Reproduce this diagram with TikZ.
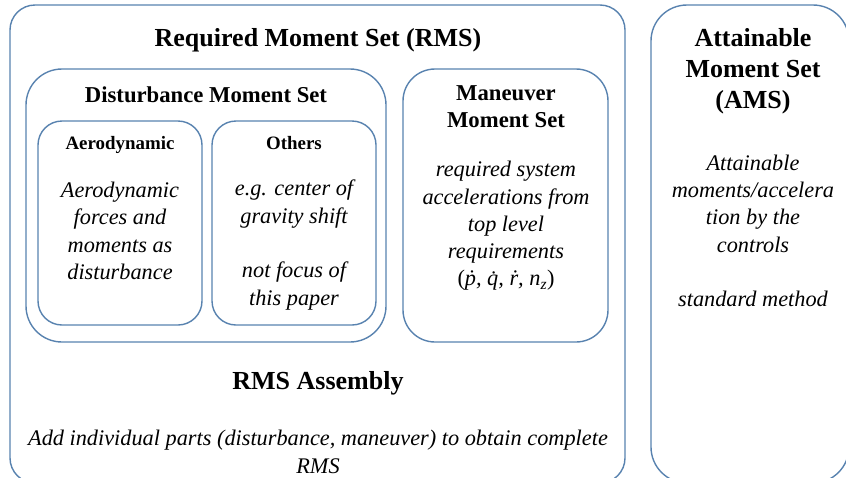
\documentclass[tikz,border=0pt]{standalone}
\usepackage{fontspec}
\setmainfont{Liberation Serif}
\begin{document}
\begin{tikzpicture}[x=1pt,y=-1pt,
  box/.style={draw=boxblue,line width=1.4pt},
  bigtitle/.style={font=\fontsize{26}{31}\selectfont\bfseries,align=center,inner sep=0pt},
  midtitle/.style={font=\fontsize{22.7}{27}\selectfont\bfseries,align=center,inner sep=0pt},
  smalltitle/.style={font=\fontsize{18.9}{22}\selectfont\bfseries,align=center,inner sep=0pt,anchor=base},
  body/.style={font=\fontsize{22.3}{27.3}\selectfont\itshape,align=center,inner sep=0pt}]
\definecolor{boxblue}{RGB}{88,130,175}
\useasboundingbox (0,0) rectangle (846,477);
\clip (0,0) rectangle (846,477);
% boxes
\draw[box,rounded corners=25pt] (10,5) rectangle (625,483);
\draw[box,rounded corners=36pt] (26,69) rectangle (386,342);
\draw[box,rounded corners=24pt] (38,121) rectangle (202,325);
\draw[box,rounded corners=24pt] (212,121) rectangle (376,325);
\draw[box,rounded corners=32pt] (403,69) rectangle (608,342);
\draw[box,rounded corners=36pt] (651,5) rectangle (849,483);
% texts
\node[bigtitle] (rmst) at (318,40) {Required Moment Set (RMS)};
\node[midtitle] (dist) at (206,95) {Disturbance Moment Set};
\node[smalltitle] (aerot) at (120,149) {Aerodynamic};
\node[body] (aerob) at (120,231) {Aerodynamic\\forces and\\moments as\\disturbance};
\node[smalltitle] (otht) at (294,149) {Others};
\node[body] (othb) at (294,245) {e.g. center of\\gravity shift\\[27.3pt]not focus of\\this paper};
\node[midtitle] (mant) at (506,107) {Maneuver\\Moment Set};
\node[body] (manb) at (506,226) {required system\\accelerations from\\top level\\requirements\\{\upshape(}\.{p}, \.{q}, \.{r}, \textit{n}\textsubscript{z}{\upshape)}};
\node[bigtitle] (asm) at (318,383) {RMS Assembly};
\node[body] (asmb) at (318,452) {Add individual parts (disturbance, maneuver) to obtain complete\\RMS};
\node[bigtitle] (amst) at (753,71) {Attainable\\Moment Set\\(AMS)};
\node[body] (amsb) at (753,231) {Attainable\\moments/accelera\\tion by the\\controls\\[27.3pt]standard method};
\end{tikzpicture}
\end{document}
